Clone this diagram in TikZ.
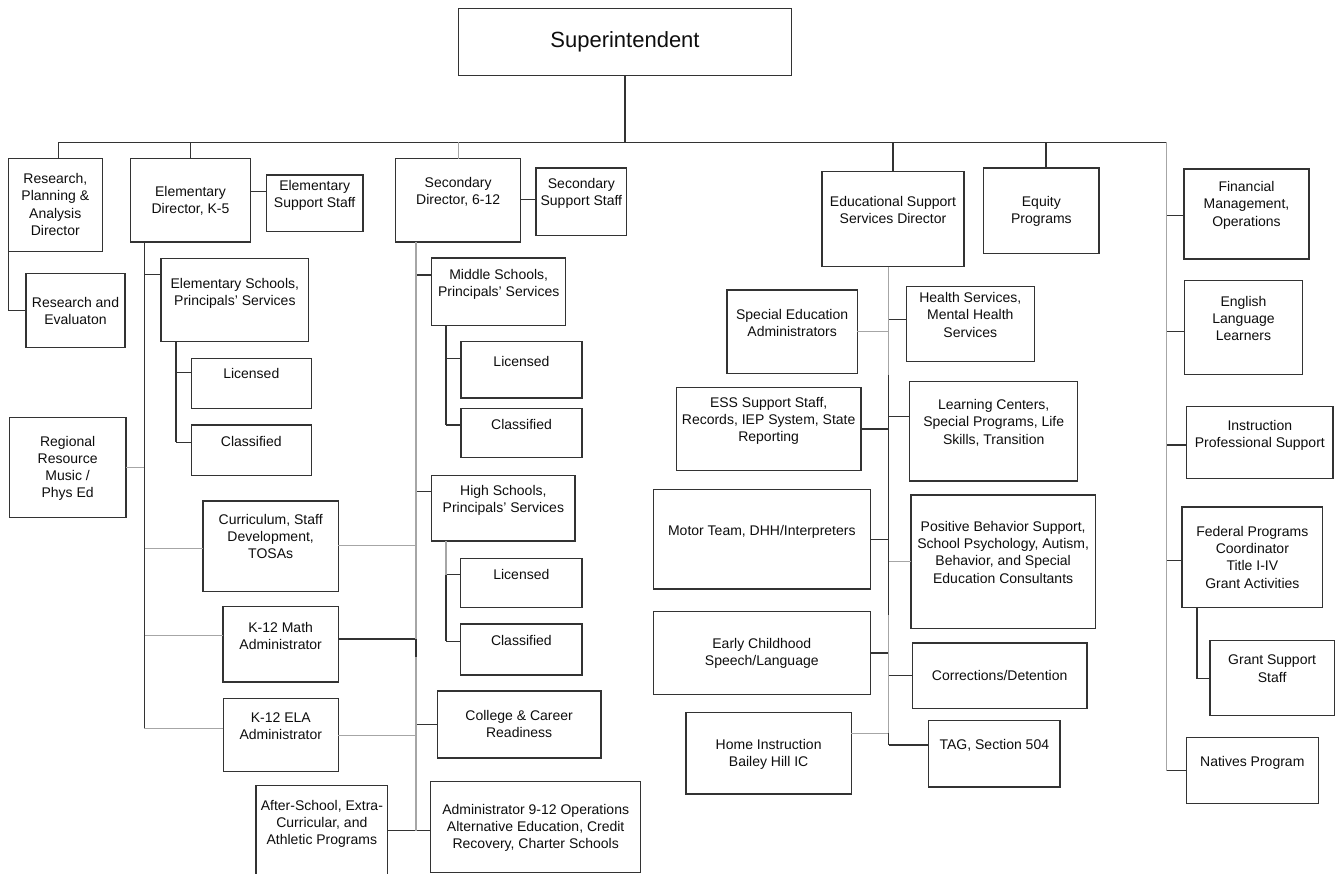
\documentclass[tikz,border=0pt]{standalone}
\usepackage{fontspec}
\setmainfont{Liberation Sans}
\usetikzlibrary{calc}

\tikzset{
  box/.style={draw=black!80, line width=1.3pt, inner sep=0pt, outer sep=0pt},
  lbl/.style={anchor=north, align=center, inner sep=0pt, text=black!95,
              font=\fontsize{14}{17.3}\selectfont},
  link/.style={draw=black!80, line width=1.2pt},
  glink/.style={draw=black!35, line width=1.2pt},
}

% box: name, x1, y1, x2, y2, centre of first text line, text
\newcommand\bx[7]{%
  \node[box, minimum width={#4-#2}, minimum height={#5-#3}] (#1) at ({(#2+#4)/2},{(#3+#5)/2}) {};
  \node[lbl] (#1-t) at ({(#2+#4)/2},{#6-5}) {#7};
}
% branch from a box side to a vertical trunk: style, joint name, box, vertical offset, trunk
\newcommand\brW[5]{%
  \coordinate (#2) at ($(#3.west)+(0,#4)$);
  \draw[#1] (#2) -- (#2 -| #5);
}
\newcommand\brE[5]{%
  \coordinate (#2) at ($(#3.east)+(0,#4)$);
  \draw[#1] (#2) -- (#2 -| #5);
}

\begin{document}
\begin{tikzpicture}[x=1pt,y=-1pt]
\useasboundingbox (0,0) rectangle (1336,874);
\clip (0,0) rectangle (1336,874);

% ---------- boxes ----------
\node[box, minimum width=333.4, minimum height=67, text=black!95,
      font=\fontsize{22}{26}\selectfont] (sup) at (625,41.8) {Superintendent};

\bx{rp}{8.3}{158.7}{102.3}{251.3}{178.3}{Research,\\Planning \&\\Analysis\\Director}
\bx{re}{26}{273.7}{125}{347.7}{302.3}{Research and\\Evaluaton}
\bx{rr}{9.3}{417.7}{126}{517.3}{440.7}{Regional\\Resource\\Music /\\Phys Ed}

\bx{ed}{130.7}{158.7}{250.3}{242}{191}{Elementary\\Director, K-5}
\bx{ess}{266.3}{175}{363}{231.3}{185}{Elementary\\Support Staff}
\bx{es}{161}{258.3}{308.7}{341.7}{282.7}{Elementary Schools,\\Principals' Services}
\bx{lic1}{191.3}{358.3}{311.3}{408.3}{373.3}{Licensed}
\bx{cls1}{191.3}{425}{311.3}{475.3}{440.7}{Classified}
\bx{cur}{203}{501}{338.3}{591.3}{519}{Curriculum, Staff\\Development,\\TOSAs}
\bx{math}{223}{606.7}{338.3}{682}{626.7}{K-12 Math\\Administrator}
\bx{ela}{223.3}{698.3}{338.3}{771.7}{717.3}{K-12 ELA\\Administrator}
\bx{as}{256}{785.3}{387.7}{880}{805}{After-School, Extra-\\Curricular, and\\Athletic Programs}

\bx{sd}{395.7}{158.7}{520.7}{242}{182.3}{Secondary\\Director, 6-12}
\bx{sss}{536}{168}{626.7}{235.3}{183.3}{Secondary\\Support Staff}
\bx{ms}{431.7}{258}{565.7}{325.3}{274}{Middle Schools,\\Principals' Services}
\bx{lic2}{461}{341.3}{582}{398}{360.7}{Licensed}
\bx{cls2}{461}{408.3}{582}{457.7}{424}{Classified}
\bx{hs}{431.7}{475.7}{575}{541}{490}{High Schools,\\Principals' Services}
\bx{lic3}{460.7}{558.3}{582}{607.7}{574.5}{Licensed}
\bx{cls3}{460.7}{624}{582}{675}{640}{Classified}
\bx{cc}{437.3}{691}{601}{758}{715}{College \& Career\\Readiness}
\bx{adm}{430.7}{781.3}{640.7}{872.7}{808.7}{Administrator 9-12 Operations\\Alternative Education, Credit\\Recovery, Charter Schools}

\bx{esd}{822}{171.7}{964}{266.7}{201}{Educational Support\\Services Director}
\bx{eq}{983.7}{168}{1099}{253.7}{201}{Equity\\Programs}
\bx{sea}{727}{290}{857.3}{373.3}{313.7}{Special Education\\Administrators}
\bx{hl}{906.3}{286.3}{1034.3}{361.3}{297.3}{Health Services,\\Mental Health\\Services}
\bx{esss}{676.3}{387.3}{861}{470.7}{401.7}{ESS Support Staff,\\Records, IEP System, State\\Reporting}
\bx{lc}{909.7}{381.7}{1077.7}{481}{404.3}{Learning Centers,\\Special Programs, Life\\Skills, Transition}
\bx{mt}{653.3}{489.3}{870.3}{589}{529.7}{Motor Team, DHH/Interpreters}
\bx{pbs}{911}{495}{1095.3}{628.7}{526}{Positive Behavior Support,\\School Psychology, Autism,\\Behavior, and Special\\Education Consultants}
\bx{ec}{653.3}{611.3}{870.3}{694.7}{643.3}{Early Childhood\\Speech/Language}
\bx{cor}{912.3}{643}{1087}{708.7}{675}{Corrections/Detention}
\bx{hi}{686}{712.3}{851.3}{794}{744}{Home Instruction\\Bailey Hill IC}
\bx{tag}{928.7}{720.3}{1060}{787}{744}{TAG, Section 504}

\bx{fin}{1184}{169}{1309}{259}{186.3}{Financial\\Management,\\Operations}
\bx{ell}{1184.3}{280.7}{1302.7}{374.3}{301}{English\\Language\\Learners}
\bx{ips}{1186.7}{406.7}{1333}{478.3}{425}{Instruction\\Professional Support}
\bx{fed}{1182}{507}{1322.7}{607.7}{531}{Federal Programs\\Coordinator\\Title I-IV\\Grant Activities}
\bx{gs}{1210}{640.7}{1334.3}{715.7}{660}{Grant Support\\Staff}
\bx{nat}{1186.3}{737.7}{1318.3}{803.3}{761}{Natives Program}

% ---------- top bus ----------
\coordinate (busY) at (0,142.3);
\coordinate (busR) at (1166.7,142.3);
\coordinate (rpTop) at ($(rp.north)+(3.4,0)$);
\coordinate (eqTop) at ($(eq.north)+(4.7,0)$);
\draw[link] (sup.south) -- (sup.south |- busY);
\draw[link] (rpTop |- busY) -- (busR);
\draw[link] (rpTop) -- (rpTop |- busY);
\draw[link] (ed.north) -- (ed.north |- busY);
\draw[glink] (sd.north) -- (sd.north |- busY);
\draw[link] (esd.north) -- (esd.north |- busY);
\draw[link] (eqTop) -- (eqTop |- busY);

% ---------- research ----------
\draw[link] (rp.south west) |- (re.west);

% ---------- elementary ----------
\coordinate (jESS) at ($(ed.east)+(0,-9)$);
\draw[link] (jESS) -- (jESS -| ess.west);
\coordinate (edT) at ($(ed.south west)+(13.6,0)$);
\brW{link}{jES}{es}{-25.3}{edT}
\brE{glink}{jRR}{rr}{0}{edT}
\brW{glink}{jCUR}{cur}{2}{edT}
\brW{glink}{jMATH}{math}{-8.6}{edT}
\brW{glink}{jELA}{ela}{-6.7}{edT}
\draw[link] (edT) -- (edT |- jELA);

\coordinate (esT) at ($(es.south west)+(15,0)$);
\brW{link}{jL1}{lic1}{-11}{esT}
\brW{link}{jC1}{cls1}{-8}{esT}
\draw[link] (esT) -- (esT |- jC1);

% ---------- secondary ----------
\coordinate (jSSS) at ($(sd.east)+(0,-0.6)$);
\draw[link] (jSSS) -- (jSSS -| sss.west);
\coordinate (sdT) at ($(sd.south west)+(20.3,0)$);
\brW{link}{jMS}{ms}{-16.7}{sdT}
\brW{link}{jHS}{hs}{-16.6}{sdT}
\brE{glink}{jCUR2}{cur}{-0.5}{sdT}
\brE{link}{jMATH2}{math}{-5.3}{sdT}
\brE{glink}{jELA2}{ela}{0.7}{sdT}
\brW{link}{jCC}{cc}{0}{sdT}
\coordinate (jAS) at ($(as.east)+(0,-1.9)$);
\draw[link] (jAS) -- (jAS -| adm.west);
\draw[glink] (sdT) -- (sdT |- jAS);
\draw[link] (jMATH2 -| sdT) -- ($(jMATH2 -| sdT)+(0,18)$);

\coordinate (msT) at ($(ms.south west)+(14.3,0)$);
\brW{link}{jL2}{lic2}{-11.4}{msT}
\brW{link}{jC2}{cls2}{-8}{msT}
\draw[link] (msT) -- (msT |- jC2);

\coordinate (hsT) at ($(hs.south west)+(14.3,0)$);
\brW{link}{jL3}{lic3}{-8.3}{hsT}
\brW{link}{jC3}{cls3}{-8.2}{hsT}
\draw[glink] (hsT) -- (hsT |- jL3);
\draw[link] (hsT |- jL3) -- (hsT |- jC3);

% ---------- educational support services ----------
\coordinate (esdT) at ($(esd.south)+(-4.3,0)$);
\brE{glink}{jSEA}{sea}{0}{esdT}
\brW{link}{jHL}{hl}{-4.5}{esdT}
\brE{link}{jESSS}{esss}{0}{esdT}
\brW{link}{jLC}{lc}{-15}{esdT}
\brE{link}{jMT}{mt}{0}{esdT}
\brW{glink}{jPBS}{pbs}{0}{esdT}
\brE{link}{jEC}{ec}{0}{esdT}
\brW{link}{jCOR}{cor}{0}{esdT}
\brE{glink}{jHI}{hi}{-20}{esdT}
\brW{link}{jTAG}{tag}{-8.7}{esdT}
\draw[glink] (esdT) -- (esdT |- jTAG);
\draw[link] ($(esdT)+(0,108)$) -- ($(esdT)+(0,348)$);
\draw[link] (esdT |- jHI) -- (esdT |- jTAG);

% ---------- right column ----------
\brW{link}{jFIN}{fin}{1.7}{busR}
\brW{link}{jELL}{ell}{4}{busR}
\brW{link}{jIPS}{ips}{2.5}{busR}
\brW{link}{jFED}{fed}{3}{busR}
\brW{link}{jNAT}{nat}{0}{busR}
\draw[glink] (busR) -- (busR |- jNAT);

\coordinate (fedT) at ($(fed.south west)+(15,0)$);
\draw[link] (fedT) |- (gs.west);
\end{tikzpicture}
\end{document}
